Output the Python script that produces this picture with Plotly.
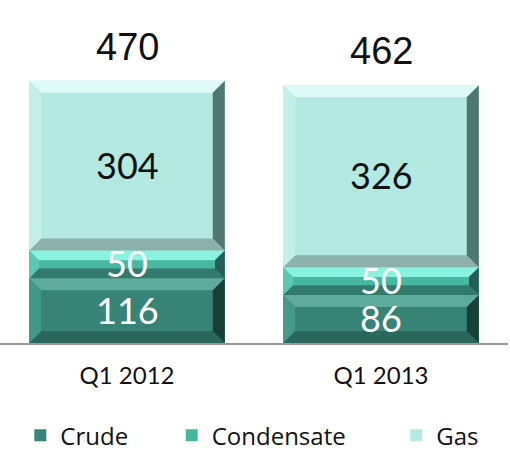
import plotly.graph_objects as go

# Production by type (kboe/d), stacked per quarter
categories = ["Q1 2012", "Q1 2013"]
crude = [116, 86]
condensate = [50, 50]
gas = [304, 326]
totals = [470, 462]

WIDTH, HEIGHT = 510, 455
MARGIN = dict(l=0, r=2, t=0, b=112, autoexpand=False)
Y_MAX = 615
BAR_WIDTH = 0.77
BEVEL_PX = 12

plot_w = WIDTH - MARGIN["l"] - MARGIN["r"]
plot_h = HEIGHT - MARGIN["t"] - MARGIN["b"]
px_per_x = plot_w / len(categories)
px_per_y = plot_h / Y_MAX

# face / top / left / right / bottom bevel colours per series
series = [
    dict(name="Crude", values=crude, face="#378476", top="#5eab9b", left="#449889",
         right="#18403a", bottom="#2a675c", text="#ffffff", legend="legend", lx=0.040),
    dict(name="Condensate", values=condensate, face="#47b7a2", top="#88f4df", left="#5cc8b3",
         right="#245f55", bottom="#327a6b", text="#ffffff", legend="legend2", lx=0.338),
    dict(name="Gas", values=gas, face="#b4e9e1", top="#ddfaf6", left="#c3efe9",
         right="#4f7772", bottom="#8cb1ab", text="#111111", legend="legend3", lx=0.780),
]

x = list(range(len(categories)))
fig = go.Figure()
shapes = []
annotations = []
base = [0] * len(categories)


def bevel_poly(pts, color):
    path = "M " + " L ".join(f"{px},{py}" for px, py in pts) + " Z"
    return dict(type="path", path=path, xref="x", yref="y",
                fillcolor=color, line=dict(width=0), layer="above")


for s in series:
    fig.add_trace(go.Bar(
        x=x, y=s["values"], base=base[:], name=s["name"], width=BAR_WIDTH,
        marker=dict(color=s["face"], line=dict(width=0)),
        legend=s["legend"], showlegend=True, hoverinfo="skip",
    ))
    for i, v in enumerate(s["values"]):
        y0, y1 = base[i], base[i] + v
        xl, xr = i - BAR_WIDTH / 2, i + BAR_WIDTH / 2
        b = min(BEVEL_PX, v * px_per_y * 0.35)
        bx, by = b / px_per_x, b / px_per_y
        shapes.append(bevel_poly([(xl, y1), (xr, y1), (xr - bx, y1 - by), (xl + bx, y1 - by)], s["top"]))
        shapes.append(bevel_poly([(xl, y0), (xr, y0), (xr - bx, y0 + by), (xl + bx, y0 + by)], s["bottom"]))
        shapes.append(bevel_poly([(xl, y0), (xl, y1), (xl + bx, y1 - by), (xl + bx, y0 + by)], s["left"]))
        shapes.append(bevel_poly([(xr, y0), (xr, y1), (xr - bx, y1 - by), (xr - bx, y0 + by)], s["right"]))
        annotations.append(dict(
            x=i, y=(y0 + y1) / 2, xref="x", yref="y", text=str(v), showarrow=False,
            font=dict(family="Lato", size=36, color=s["text"]), yanchor="middle",
            yshift=1,
        ))
        base[i] = y1

for i, t in enumerate(totals):
    annotations.append(dict(
        x=i, y=t, xref="x", yref="y", text=str(t), showarrow=False,
        font=dict(family="Liberation Sans", size=38, color="#111111"),
        yanchor="middle", yshift=34,
    ))

legend_common = dict(orientation="h", yanchor="middle", y=-0.270, xanchor="left",
                     font=dict(family="Open Sans", size=24, color="#111111"),
                     bgcolor="rgba(0,0,0,0)", itemclick=False, itemdoubleclick=False)
layout_legends = {}
for s in series:
    layout_legends[s["legend"]] = dict(legend_common, x=s["lx"])

fig.update_layout(
    width=WIDTH, height=HEIGHT, margin=MARGIN,
    paper_bgcolor="white", plot_bgcolor="white",
    barmode="overlay",
    xaxis=dict(range=[-0.5, len(categories) - 0.5], tickvals=x, ticktext=categories,
               showgrid=False, zeroline=False, showline=True, linecolor="#9a9a9a",
               linewidth=2, ticks="", ticklabelstandoff=10,
               tickfont=dict(family="Lato", size=24, color="#111111"), fixedrange=True),
    yaxis=dict(range=[0, Y_MAX], visible=False, fixedrange=True),
    shapes=shapes, annotations=annotations,
    **layout_legends,
)

fig.write_html("out.html", config=dict(displayModeBar=False))
